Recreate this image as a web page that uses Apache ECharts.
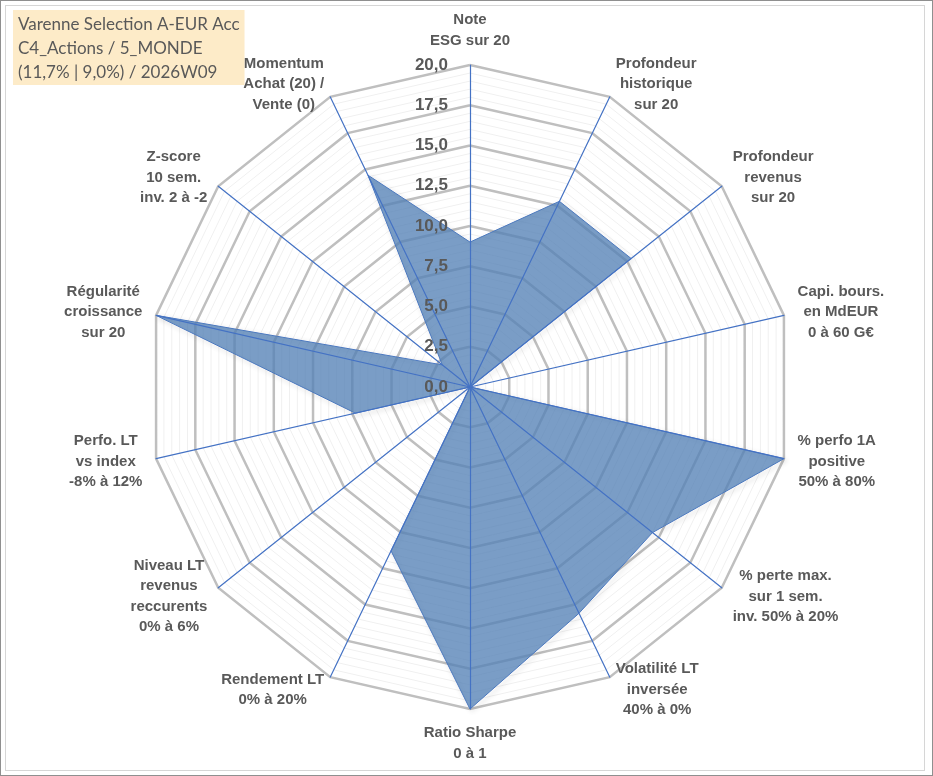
<!DOCTYPE html>
<html>
<head>
<meta charset="utf-8" />
<title>Radar Varenne Selection</title>
<script src="https://cdn.jsdelivr.net/npm/echarts@6/dist/echarts.min.js"></script>
<style>
  html, body {margin:0; padding:0; background:#fff;}
  .frame-out {position:absolute; left:0; top:0; width:931px; height:774px; border:1px solid #8f8f8f;}
  .frame-in {position:absolute; left:5px; top:5px; width:918px; height:764px; border:1px solid #d6d6d6;}
  #radar {position:absolute; left:0; top:0; width:933px; height:776px;}
</style>
</head>
<body>
<div class="frame-out"></div>
<div class="frame-in"></div>
<div id="radar"></div>
<script type="text/javascript">
// axes in the Excel order (clockwise, starting at the top)
var axisNames = [
  'Note\nESG sur 20',
  'Profondeur\nhistorique\nsur 20',
  'Profondeur\nrevenus\nsur 20',
  'Capi. bours.\nen MdEUR\n0 à 60 G€',
  '% perfo 1A\npositive\n50% à 80%',
  '% perte max.\nsur 1 sem.\ninv. 50% à 20%',
  'Volatilité LT\ninversée\n40% à 0%',
  'Ratio Sharpe\n0 à 1',
  'Rendement LT\n0% à 20%',
  'Niveau LT\nrevenus\nreccurents\n0% à 6%',
  'Perfo. LT\nvs index\n-8% à 12%',
  'Régularité\ncroissance\nsur 20',
  'Z-score\n10 sem.\ninv. 2 à -2',
  'Momentum\nAchat (20) /\nVente (0)'
];
var scores = [9.0, 12.8, 12.8, 0, 20, 14.5, 15.6, 20, 11.3, 0, 7.3, 20, 2.2, 14.6];
var scaleMax = 20;
var majorSplits = 8;   // pas de 2,5
var minorSplits = 40;  // pas de 0,5
var titleLines = ['Varenne Selection A-EUR Acc', 'C4_Actions / 5_MONDE', '(11,7% | 9,0%) / 2026W09'];

// echarts pose les axes dans le sens anti-horaire -> on inverse l'ordre (le 1er reste en haut)
var order = [0];
for (var i = axisNames.length - 1; i > 0; i--) order.push(i);

var grey = '#595959';
var font = '"Liberation Sans", Arial, sans-serif';

var indicators = order.map(function (k, j) {
  var ind = {name: axisNames[k], min: 0, max: scaleMax};
  if (j === 0) ind.axisLabel = {show: true};
  return ind;
});
var minorIndicators = order.map(function () {
  return {name: '', min: 0, max: scaleMax};
});

var chart = echarts.init(document.getElementById('radar'));

var option = {
  backgroundColor: 'transparent',
  animation: false,
  title: {
    text: titleLines.join('\n'),
    left: 13,
    top: 10,
    padding: [3, 5, 0, 5],
    backgroundColor: 'rgba(252,223,166,0.62)',
    z: 10,
    textStyle: {
      fontFamily: 'Lato, sans-serif',
      fontWeight: 'normal',
      fontSize: 17,
      lineHeight: 24,
      color: grey
    }
  },
  radar: [
    {
      // grille fine (0,5)
      center: [470, 387],
      radius: 322,
      shape: 'polygon',
      splitNumber: minorSplits,
      indicator: minorIndicators,
      axisName: {show: false},
      axisLine: {show: false},
      axisTick: {show: false},
      axisLabel: {show: false},
      splitArea: {show: false},
      splitLine: {lineStyle: {color: '#f0f0f0', width: 1}},
      silent: true,
      z: 1
    },
    {
      center: [470, 387],
      radius: 322,
      shape: 'polygon',
      splitNumber: majorSplits,
      indicator: indicators,
      nameGap: 14,
      axisName: {
        formatter: function (name) {
          return name.split('\n').map(function (l) { return '{c|' + l + '}'; }).join('\n');
        },
        rich: {
          c: {
            align: 'center',
            fontFamily: font,
            fontWeight: 'bold',
            fontSize: 15,
            lineHeight: 20.5,
            color: grey
          }
        }
      },
      axisLine: {lineStyle: {color: '#4472c4', width: 1.2}},
      axisTick: {show: false},
      axisLabel: {
        show: false,
        margin: 22,
        fontFamily: font,
        fontWeight: 'bold',
        fontSize: 17,
        color: grey,
        formatter: function (v) { return v.toFixed(1).replace('.', ','); }
      },
      splitArea: {show: false},
      splitLine: {lineStyle: {color: '#bfbfbf', width: 2.5}},
      z: 2
    }
  ],
  series: [
    {
      type: 'radar',
      radarIndex: 1,
      symbol: 'none',
      lineStyle: {
        color: '#4472c4',
        width: 1,
        shadowBlur: 5,
        shadowColor: 'rgba(0,0,0,0.3)',
        shadowOffsetX: 2,
        shadowOffsetY: 2
      },
      areaStyle: {color: '#5482b6', opacity: 0.78},
      data: [{value: order.map(function (k) { return scores[k]; })}]
    }
  ]
};
chart.setOption(option);
</script>
</body>
</html>
